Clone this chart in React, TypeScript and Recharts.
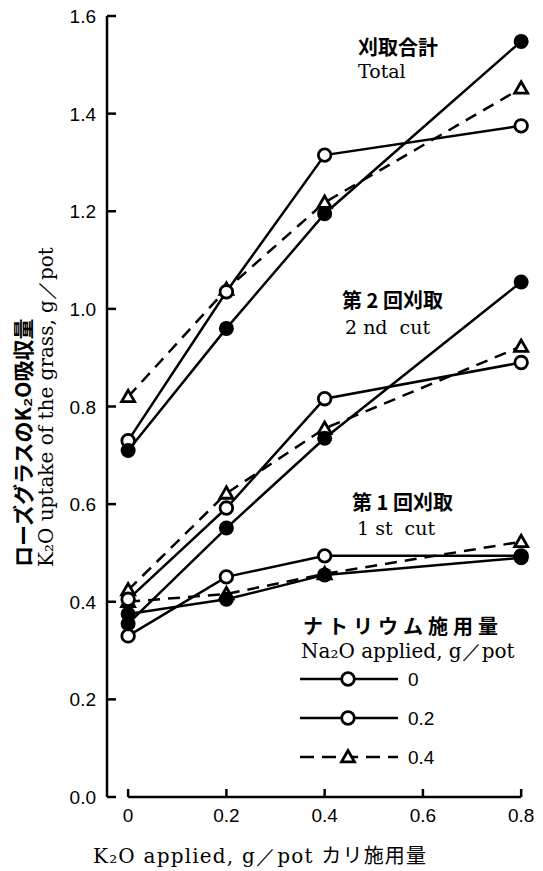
import React from 'react';
import { LineChart, Line, XAxis, YAxis, ReferenceLine, Legend } from 'recharts';

// K2O applied, g/pot
const k2oApplied = [0, 0.2, 0.4, 0.8];

// Total (刈取合計)
const totalNa0 = [0.73, 1.035, 1.315, 1.375];
const totalNa02 = [0.71, 0.96, 1.195, 1.548];
const totalNa04 = [0.82, 1.04, 1.218, 1.452];

// 2nd cut (第2回刈取)
const cut2Na0 = [0.405, 0.592, 0.816, 0.89];
const cut2Na02 = [0.355, 0.551, 0.735, 1.055];
const cut2Na04 = [0.424, 0.622, 0.755, 0.923];

// 1st cut (第1回刈取)
const cut1Na0 = [0.33, 0.451, 0.494, 0.494];
const cut1Na02 = [0.375, 0.405, 0.455, 0.49];
const cut1Na04 = [0.40, 0.416, 0.457, 0.523];

const xTicks = [0, 0.2, 0.4, 0.6, 0.8];
const yTicks = [0, 0.2, 0.4, 0.6, 0.8, 1.0, 1.2, 1.4, 1.6];
const naLevels = ['0', '0.2', '0.4'];

const data = k2oApplied.map((x, i) => ({
  x,
  t0: totalNa0[i], t2: totalNa02[i], t4: totalNa04[i],
  c20: cut2Na0[i], c22: cut2Na02[i], c24: cut2Na04[i],
  c10: cut1Na0[i], c12: cut1Na02[i], c14: cut1Na04[i],
}));

const SERIF = '"DejaVu Serif", "Liberation Serif", serif';
const SANS = '"Liberation Sans", Arial, sans-serif';
const JP = '"Noto Sans CJK JP", sans-serif';
const DASH = '12 8';

type Kind = 'open' | 'filled' | 'tri';

const Marker = ({ cx, cy, kind }: { cx: number; cy: number; kind: Kind }) => {
  if (kind === 'tri') {
    const s = 6.5;
    return (
      <polygon
        points={`${cx},${cy - s} ${cx - s},${cy + s * 0.75} ${cx + s},${cy + s * 0.75}`}
        fill="#fff" stroke="#000" strokeWidth={2.8} strokeLinejoin="miter"
      />
    );
  }
  if (kind === 'filled') return <circle cx={cx} cy={cy} r={7.5} fill="#000" />;
  return <circle cx={cx} cy={cy} r={6.3} fill="#fff" stroke="#000" strokeWidth={2.8} />;
};

const dotOf = (kind: Kind) => (props: any) =>
  <Marker key={props.index} cx={props.cx} cy={props.cy} kind={kind} />;

const series: { key: string; kind: Kind }[] = [
  { key: 'c14', kind: 'tri' }, { key: 'c10', kind: 'open' }, { key: 'c12', kind: 'filled' },
  { key: 'c24', kind: 'tri' }, { key: 'c20', kind: 'open' }, { key: 'c22', kind: 'filled' },
  { key: 't4', kind: 'tri' }, { key: 't0', kind: 'open' }, { key: 't2', kind: 'filled' },
];

const XTick = (props: any) => {
  const { x, y, payload } = props;
  return (
    <g>
      <line x1={x} x2={x} y1={y} y2={y - 8} stroke="#000" strokeWidth={2.5} />
      <text x={x} y={y + 25} textAnchor="middle" fontFamily={SANS} fontSize={19} fill="#000">
        {payload.value === 0 ? '0' : payload.value.toFixed(1)}
      </text>
    </g>
  );
};

const YTick = (props: any) => {
  const { x, y, payload } = props;
  return (
    <g>
      <line x1={x} x2={x + 9} y1={y} y2={y} stroke="#000" strokeWidth={2.5} />
      <text x={x - 11} y={y + 7} textAnchor="end" fontFamily={SANS} fontSize={19} fill="#000">
        {payload.value.toFixed(1)}
      </text>
    </g>
  );
};

const legendKinds: Kind[] = ['open', 'open', 'tri'];

const LegendBox = () => (
  <svg width={160} height={100}>
    {naLevels.map((lv, i) => {
      const y = 12 + i * 39;
      return (
        <g key={lv}>
          <line x1={2} x2={100} y1={y} y2={y} stroke="#000" strokeWidth={2.5}
            strokeDasharray={i === 2 ? '14 8' : undefined} />
          <Marker cx={50} cy={y} kind={legendKinds[i]} />
          <text x={110} y={y + 7} fontFamily={SANS} fontSize={19} fill="#000">{lv}</text>
        </g>
      );
    })}
  </svg>
);

const Note = ({ left, cy, size, font, weight, spacing, children }: any) => (
  <div style={{
    position: 'absolute', left, top: cy - size * 0.6, fontSize: size, lineHeight: 1.2,
    fontFamily: font, fontWeight: weight || 400, whiteSpace: 'nowrap', color: '#000',
    letterSpacing: spacing || 0,
  }}>{children}</div>
);

export default function App() {
  return (
    <div style={{ position: 'absolute', left: 0, top: 0, width: 543, height: 871, background: '#fff' }}>
      <LineChart width={543} height={871} data={data}
        margin={{ top: 16, right: 12, left: 7, bottom: 14 }}>
        <XAxis dataKey="x" type="number" domain={[-0.043, 0.82]} ticks={xTicks}
          axisLine={false} tickLine={false} tickSize={0} tickMargin={0} height={60}
          tick={<XTick />} interval={0} />
        <YAxis type="number" domain={[0, 1.6]} ticks={yTicks} width={100}
          axisLine={{ stroke: '#000', strokeWidth: 2.5 }} tickLine={false}
          tickSize={0} tickMargin={0} tick={<YTick />} interval={0} />
        <ReferenceLine segment={[{ x: 0, y: 0 }, { x: 0.8, y: 0 }]} stroke="#000" strokeWidth={2.5} />
        {series.map(s => (
          <Line key={s.key} dataKey={s.key} type="linear" stroke="#000" strokeWidth={2.5}
            strokeDasharray={s.kind === 'tri' ? DASH : undefined}
            dot={dotOf(s.kind)} activeDot={false} isAnimationActive={false} />
        ))}
        <Legend layout="vertical" align="center" verticalAlign="middle"
          content={() => <LegendBox />}
          wrapperStyle={{ left: 298, top: 667, width: 160, height: 100 }} />
      </LineChart>

      <Note left={358} cy={47} size={20} font={JP} weight={700}>刈取合計</Note>
      <Note left={358} cy={71} size={19} font={SERIF}>Total</Note>
      <Note left={342} cy={300} size={20} font={JP} weight={700}>第 2 回刈取</Note>
      <Note left={345} cy={327} size={19} font={SERIF}>2 nd&nbsp; cut</Note>
      <Note left={352} cy={502} size={20} font={JP} weight={700}>第 1 回刈取</Note>
      <Note left={357} cy={528} size={19} font={SERIF}>1 st&nbsp; cut</Note>
      <Note left={303} cy={626} size={20} font={JP} weight={700} spacing={5}>ナトリウム施用量</Note>
      <Note left={301} cy={651} size={20} font={SERIF}>Na₂O applied, g／pot</Note>

      <div style={{
        position: 'absolute', left: 10, top: 567, transform: 'rotate(-90deg)', transformOrigin: 'left top',
        whiteSpace: 'nowrap', lineHeight: '24px', fontSize: 21, fontFamily: JP, fontWeight: 700,
      }}>ローズグラスのK₂O吸収量</div>
      <div style={{
        position: 'absolute', left: 34, top: 567, transform: 'rotate(-90deg)', transformOrigin: 'left top',
        whiteSpace: 'nowrap', lineHeight: '24px', fontSize: 20, fontFamily: SERIF,
      }}>K₂O uptake of the grass, g／pot</div>

      <div style={{
        position: 'absolute', left: 93, top: 844, whiteSpace: 'nowrap', fontSize: 20,
        lineHeight: '22px', fontFamily: SERIF, letterSpacing: 1.2,
      }}>K₂O applied, g／pot <span style={{ fontFamily: JP }}>カリ施用量</span></div>
    </div>
  );
}
